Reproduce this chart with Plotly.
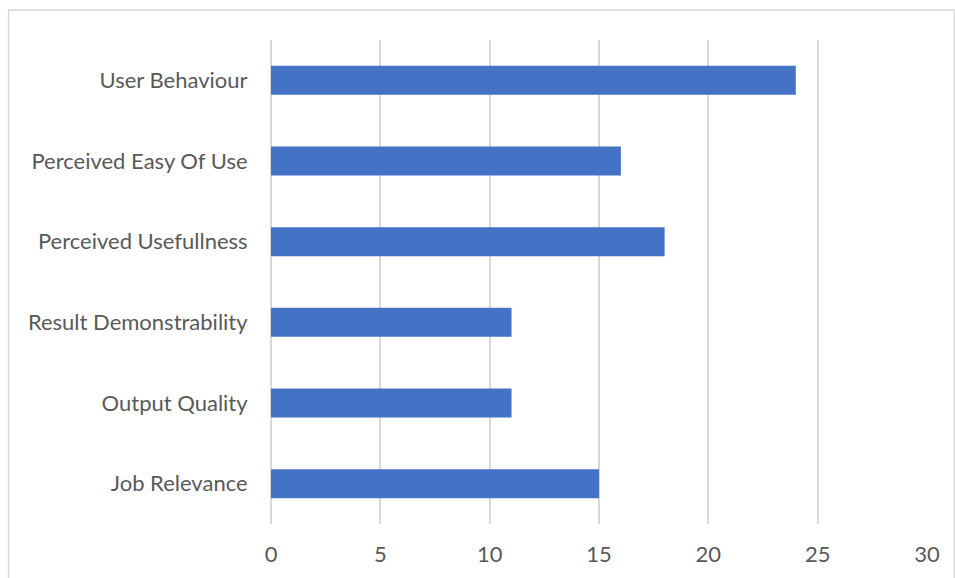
import plotly.graph_objects as go

categories = ["Job Relevance", "Output Quality", "Result Demonstrability",
              "Perceived Usefullness", "Perceived Easy Of Use", "User Behaviour"]
values = [15, 11, 11, 18, 16, 24]
tick_vals = [0, 5, 10, 15, 20, 25, 30]

W, H = 955, 578
L, R, T, B = 270.5, 28.3, 40, 54
pw = W - L - R
ph = H - T - B

fig = go.Figure(go.Bar(
    x=values, y=categories, orientation="h",
    marker=dict(color="#4472C4", line=dict(width=0)),
    width=0.36,
))

def px_to_paper_x(px):
    return (px - L) / pw

def px_to_paper_y(py):
    return (H - B - py) / ph

fig.add_shape(type="rect", xref="paper", yref="paper",
              x0=px_to_paper_x(8), x1=px_to_paper_x(954),
              y0=px_to_paper_y(590), y1=px_to_paper_y(10),
              line=dict(color="#d9d9d9", width=1.5), fillcolor="rgba(0,0,0,0)",
              layer="below")

font = dict(family="Lato, Calibri, sans-serif", size=22, color="#595959")

fig.update_layout(
    width=W, height=H,
    margin=dict(l=L, r=R, t=T, b=B, pad=0),
    paper_bgcolor="white", plot_bgcolor="white",
    showlegend=False,
    font=font,
    bargap=0.64,
    xaxis=dict(range=[0, 30], tickvals=tick_vals, showgrid=True,
               gridcolor="#d9d9d9", gridwidth=1.5, zeroline=True,
               zerolinecolor="#d9d9d9", zerolinewidth=1.5,
               showline=False, ticks="outside", ticklen=11,
               tickcolor="rgba(0,0,0,0)", tickfont=font, fixedrange=True),
    yaxis=dict(categoryorder="array", categoryarray=categories,
               showgrid=False, zeroline=False, showline=False,
               ticks="outside", ticklen=18, tickcolor="rgba(0,0,0,0)",
               tickfont=font, range=[-0.5, 5.5]),
)

fig.write_html("out.html")
